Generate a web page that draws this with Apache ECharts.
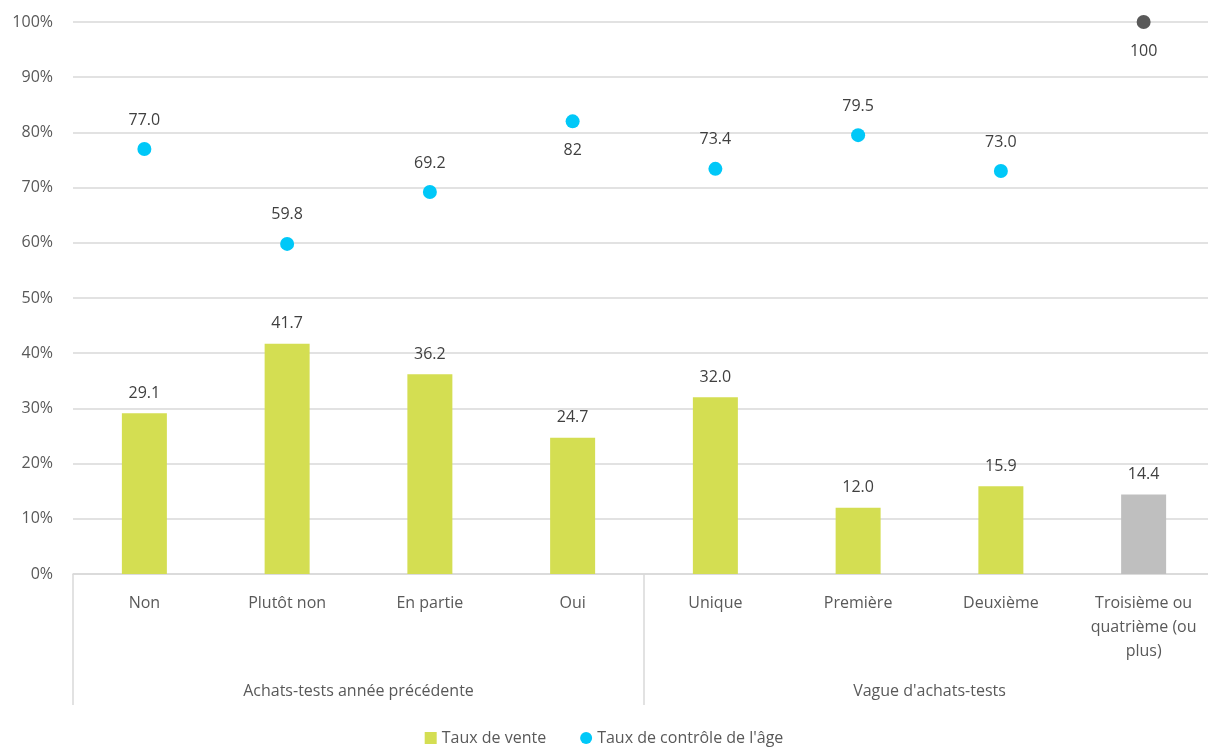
<!DOCTYPE html>
<html>
<head>
<meta charset="utf-8">
<script src="https://cdn.jsdelivr.net/npm/echarts@6/dist/echarts.min.js"></script>
<style>
  html, body { margin: 0; padding: 0; background: #fff; }
  #chart { width: 1208px; height: 747px; }
</style>
</head>
<body>
<div id="chart"></div>
<script>
// categories
var categories = ['Non', 'Plutôt non', 'En partie', 'Oui', 'Unique', 'Première', 'Deuxième', 'Troisième ou\nquatrième (ou\nplus)']
var groups = ['Achats-tests année précédente', "Vague d'achats-tests"]

// series values
var tauxVente = [29.1, 41.7, 36.2, 24.7, 32.0, 12.0, 15.9, 14.4]
var tauxControle = [77.0, 59.8, 69.2, 82, 73.4, 79.5, 73.0, 100]
// how the point labels are written in the picture
var controleLabels = ['77.0', '59.8', '69.2', '82', '73.4', '79.5', '73.0', '100']
var controleLabelBelow = [false, false, false, true, false, false, false, true]

var textColor = '#595959'
var green = '#D4DE52'
var cyan = '#00C8F8'

var barData = tauxVente.map(function (v, i) {
  var item = { value: v }
  if (i === tauxVente.length - 1) item.itemStyle = { color: '#BFBFBF' } // dernière colonne en gris
  return item
})

var pointData = tauxControle.map(function (v, i) {
  var item = {
    value: v,
    label: {
      position: controleLabelBelow[i] ? 'bottom' : 'top',
      formatter: controleLabels[i]
    }
  }
  if (i === tauxControle.length - 1) item.itemStyle = { color: '#595959', opacity: 1 }
  return item
})

var myChart = echarts.init(document.getElementById('chart'))
var option = {
  animation: false,
  textStyle: { fontFamily: 'Open Sans, sans-serif' },
  grid: {
    left: 73,
    top: 22,
    right: -7,
    bottom: 173,
    outerBoundsMode: 'none'
  },
  legend: {
    top: 725,
    left: 'center',
    itemWidth: 12,
    itemHeight: 12,
    itemGap: 34,
    textStyle: { color: textColor, fontSize: 16 },
    data: [
      { name: 'Taux de vente', icon: 'rect' },
      { name: "Taux de contrôle de l'âge", icon: 'circle' }
    ]
  },
  xAxis: [
    {
      type: 'category',
      data: categories,
      axisLine: { lineStyle: { color: '#D9D9D9', width: 1.5 } },
      axisTick: { show: false },
      axisLabel: {
        color: textColor,
        fontSize: 16,
        margin: 17,
        lineHeight: 24,
        interval: 0
      }
    },
    {
      // second niveau de catégories
      type: 'category',
      position: 'bottom',
      data: groups,
      axisLine: { show: false },
      axisTick: { show: true, length: 131, lineStyle: { color: '#D9D9D9', width: 1.5 } },
      axisLabel: { color: textColor, fontSize: 16, margin: 109 }
    }
  ],
  yAxis: {
    type: 'value',
    min: 0,
    max: 100,
    interval: 10,
    axisLine: { show: false },
    axisTick: { show: false },
    axisLabel: { color: textColor, fontSize: 16, margin: 20, formatter: '{value}%' },
    splitLine: { lineStyle: { color: '#D9D9D9', width: 1.5 } }
  },
  series: [
    {
      name: 'Taux de vente',
      type: 'bar',
      data: barData,
      barWidth: 45,
      itemStyle: { color: green },
      label: {
        show: true,
        position: 'top',
        distance: 12,
        color: '#404040',
        fontSize: 16,
        formatter: function (p) { return p.value.toFixed(1) }
      }
    },
    {
      name: "Taux de contrôle de l'âge",
      type: 'scatter',
      data: pointData,
      symbolSize: 14,
      itemStyle: { color: cyan, opacity: 1 },
      label: {
        show: true,
        distance: 14,
        color: '#404040',
        fontSize: 16
      }
    }
  ]
}
myChart.setOption(option)
window.addEventListener('resize', function () {
  myChart.resize()
})
</script>
</body>
</html>
